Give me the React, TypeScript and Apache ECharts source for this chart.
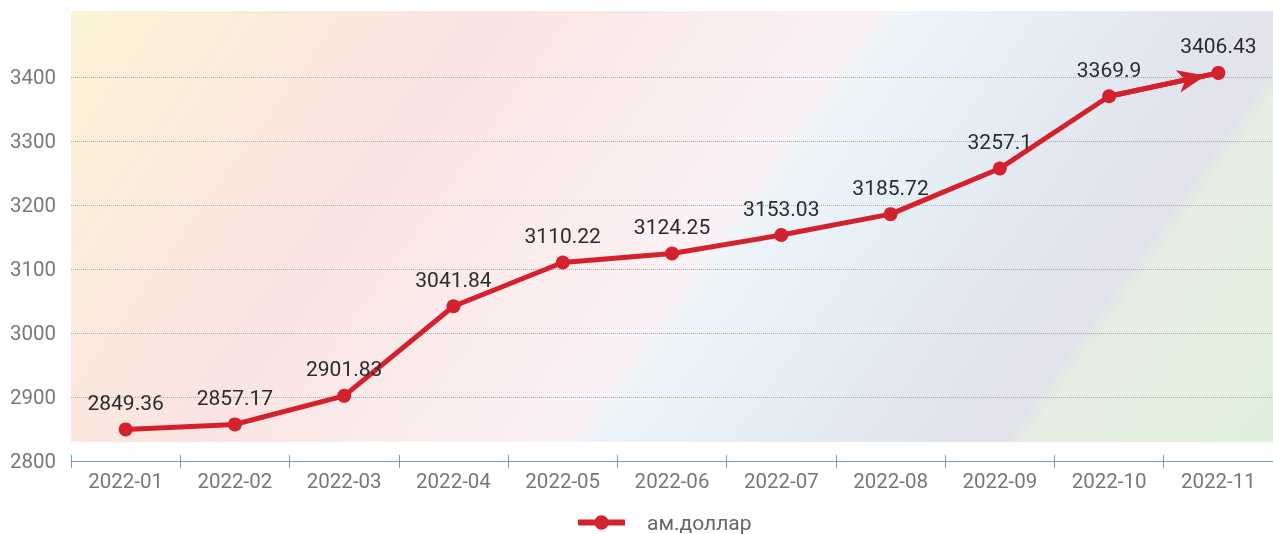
import React, { useEffect, useRef } from "react";
import * as echarts from "echarts";

const categories = [
  "2022-01", "2022-02", "2022-03", "2022-04", "2022-05", "2022-06",
  "2022-07", "2022-08", "2022-09", "2022-10", "2022-11",
];
const seriesName = "ам.доллар";
const values = [
  2849.36, 2857.17, 2901.83, 3041.84, 3110.22, 3124.25,
  3153.03, 3185.72, 3257.1, 3369.9, 3406.43,
];
const yMin = 2800;
const yMax = 3500;
const yInterval = 100;

const RED = "#d3222e";

export default function App() {
  const ref = useRef<HTMLDivElement>(null);
  useEffect(() => {
    if (!ref.current) return;
    const chart = echarts.init(ref.current, undefined, { renderer: "svg" });
    const n = categories.length;
    chart.setOption({
      animation: false,
      textStyle: { fontFamily: "Roboto" },
      graphic: [
        {
          type: "rect",
          z: -10,
          silent: true,
          shape: { x: 71, y: 11, width: 1202, height: 431 },
          style: {
            fill: new echarts.graphic.LinearGradient(
              71, 11, 1068, 728,
              [
                { offset: 0, color: "#fdf4d6" },
                { offset: 0.14, color: "#fbebdc" },
                { offset: 0.28, color: "#fae4e2" },
                { offset: 0.42, color: "#fbeced" },
                { offset: 0.53, color: "#fbf1f4" },
                { offset: 0.55, color: "#edf5f9" },
                { offset: 0.64, color: "#e6eff6" },
                { offset: 0.74, color: "#e3e6ee" },
                { offset: 0.82, color: "#e2e2eb" },
                { offset: 0.835, color: "#e6ede2" },
                { offset: 1, color: "#e0f0dc" },
              ],
              true
            ),
          },
        },
      ],
      grid: { left: 71, right: 0, top: 13, bottom: 73 },
      legend: {
        left: 570,
        top: 507,
        padding: 5,
        itemWidth: 47,
        itemHeight: 18,
        data: [seriesName],
        lineStyle: { width: 6 },
        textStyle: {
          fontSize: 21,
          color: "#666",
          lineHeight: 21,
          padding: [0, 0, 0, 17],
          fontFamily: "Roboto",
        },
      },
      xAxis: [
        {
          type: "category",
          data: categories,
          position: "bottom",
          axisLine: { show: true, lineStyle: { color: "#7f9bb5", width: 1 } },
          axisTick: { show: true, length: 7, lineStyle: { color: "#7f9bb5" } },
          axisLabel: { fontSize: 20.5, color: "#777", margin: 9, fontFamily: "Roboto" },
          splitLine: { show: false },
        },
        {
          type: "category",
          data: categories,
          position: "bottom",
          axisLine: { show: false },
          axisTick: { show: true, inside: true, length: 6, lineStyle: { color: "#7f9bb5" } },
          axisLabel: { show: false },
          splitLine: { show: false },
        },
      ],
      yAxis: {
        type: "value",
        min: yMin,
        max: yMax,
        interval: yInterval,
        axisLine: { show: false },
        axisTick: { show: false },
        axisLabel: {
          fontSize: 20.5,
          color: "#777",
          margin: 15,
          showMaxLabel: false,
          fontFamily: "Roboto",
          formatter: (v: number) => String(v),
        },
        splitLine: {
          show: true,
          showMaxLine: false,
          lineStyle: { color: "#a9a9a9", type: "dotted", width: 1 },
        },
      },
      series: [
        {
          name: seriesName,
          type: "line",
          data: values,
          xAxisIndex: 0,
          symbol: "circle",
          symbolSize: 14,
          itemStyle: { color: RED },
          lineStyle: { color: RED, width: 5 },
          label: {
            show: true,
            position: "top",
            distance: 9,
            fontSize: 21,
            color: "#2b2b2b",
            fontFamily: "Roboto",
          },
          markLine: {
            silent: true,
            symbol: ["none", "arrow"],
            symbolSize: [17, 28],
            symbolOffset: [0, [0, 13]],
            label: { show: false },
            lineStyle: { color: RED, width: 5, type: "solid" },
            emphasis: { disabled: true },
            data: [
              [
                { coord: [categories[n - 2], values[n - 2]] },
                { coord: [categories[n - 1], values[n - 1]] },
              ],
            ],
          },
        },
      ],
    });
    return () => chart.dispose();
  }, []);
  return (
    <div
      ref={ref}
      style={{ position: "fixed", left: 0, top: 0, width: 1273, height: 534 }}
    />
  );
}
